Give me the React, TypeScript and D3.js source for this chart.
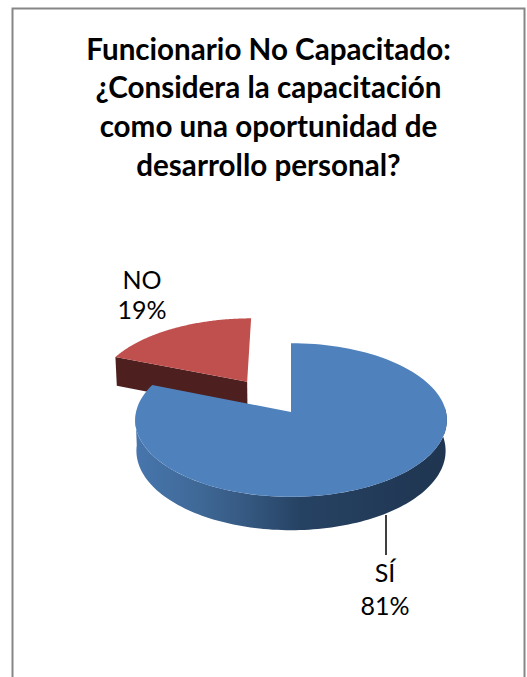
import React from "react";
import * as d3 from "d3";

const categories = ["SÍ", "NO"];
const shares = [81, 19];
const titleLines = [
  "Funcionario No Capacitado:",
  "¿Considera la capacitación",
  "como una oportunidad de",
  "desarrollo personal?",
];

const W = 527;
const H = 677;
const FONT = "Lato, 'Open Sans', sans-serif";

// Perspective model of the pie disc: u/v live on the unit disc, v > 0 is toward the viewer.
const CX = 291;
const CY = 412;
const RX = 155;
const RY = 76;
const K = 0.104;
const DEPTH = 30.5;
const BASE_SCALE = 0.992;
const EXPLODE = 0.5;

type Pt = [number, number];

function project(u: number, v: number, lower = false): Pt {
  const w = 1 - K * v;
  const s = lower ? BASE_SCALE : 1;
  return [CX + (RX * u * s) / w, CY + (RY * v * s) / w + (lower ? DEPTH / w : 0)];
}

const pieLayout = d3
  .pie<number>()
  .sort(null)
  .startAngle(0)
  .endAngle(2 * Math.PI);
const arcs = pieLayout(shares);

const onDisc = (a: number, ox = 0, oy = 0, lower = false): Pt =>
  project(ox + Math.sin(a), oy - Math.cos(a), lower);

function sweep(a0: number, a1: number, ox = 0, oy = 0, lower = false): Pt[] {
  return d3.range(0, 121).map((i) => onDisc(a0 + ((a1 - a0) * i) / 120, ox, oy, lower));
}

const pathOf = d3.line<Pt>();

export default function App() {
  const [si, no] = arcs;
  const mid = (no.startAngle + no.endAngle) / 2;
  const ox = Math.sin(mid) * EXPLODE * 1.05;
  const oy = -Math.cos(mid) * EXPLODE;

  const blueTop = [project(0, 0), ...sweep(si.startAngle, si.endAngle)];
  const wallFrom = (86 * Math.PI) / 180;
  const wallTo = (268 * Math.PI) / 180;
  const blueWall = [
    ...sweep(wallFrom, wallTo),
    ...sweep(wallFrom, wallTo, 0, 0, true).reverse(),
  ];

  const redTop = [project(ox, oy), ...sweep(no.startAngle, no.endAngle, ox, oy)];
  const redCut = [
    project(ox, oy),
    onDisc(no.startAngle, ox, oy),
    onDisc(no.startAngle, ox, oy, true),
    project(ox, oy, true),
  ];

  const wallStops: [number, string][] = [
    [0, "#1f3550"],
    [0.47, "#264263"],
    [0.63, "#34577f"],
    [0.79, "#3f6896"],
    [1, "#4776ad"],
  ];

  return (
    <svg
      width={W}
      height={H}
      style={{ position: "absolute", left: 0, top: 0 }}
      fontFamily={FONT}
    >
      <defs>
        <linearGradient id="wall" gradientUnits="userSpaceOnUse" x1={447} x2={135} y1={0} y2={0}>
          {wallStops.map(([o, c]) => (
            <stop key={o} offset={o} stopColor={c} />
          ))}
        </linearGradient>
      </defs>
      <rect width={W} height={H} fill="#fff" />
      <path d="M12.5 677V8.5H524.5V677" fill="none" stroke="#868686" strokeWidth={2} />

      {titleLines.map((t, i) => (
        <text
          key={t}
          x={268.5}
          y={59.5 + i * 38.7}
          textAnchor="middle"
          fontSize={29.6}
          fontWeight={700}
          fill="#000"
        >
          {t}
        </text>
      ))}

      <path d={pathOf(redCut)!} fill="#4d1f1e" />
      <path d={pathOf(redTop)! + "Z"} fill="#c0504d" />
      <path d={pathOf(blueWall)! + "Z"} fill="url(#wall)" />
      <path d={pathOf(blueTop)! + "Z"} fill="#4f81bd" />

      <line x1={386} y1={515} x2={386} y2={555} stroke="#000" strokeWidth={1.5} />

      <text textAnchor="middle" fontSize={25} fill="#000">
        <tspan x={385} y={582}>{categories[0]}</tspan>
        <tspan x={385} y={615}>{`${shares[0]}%`}</tspan>
      </text>
      <text textAnchor="middle" fontSize={25} fill="#000">
        <tspan x={142} y={289}>{categories[1]}</tspan>
        <tspan x={142} y={319}>{`${shares[1]}%`}</tspan>
      </text>
    </svg>
  );
}
